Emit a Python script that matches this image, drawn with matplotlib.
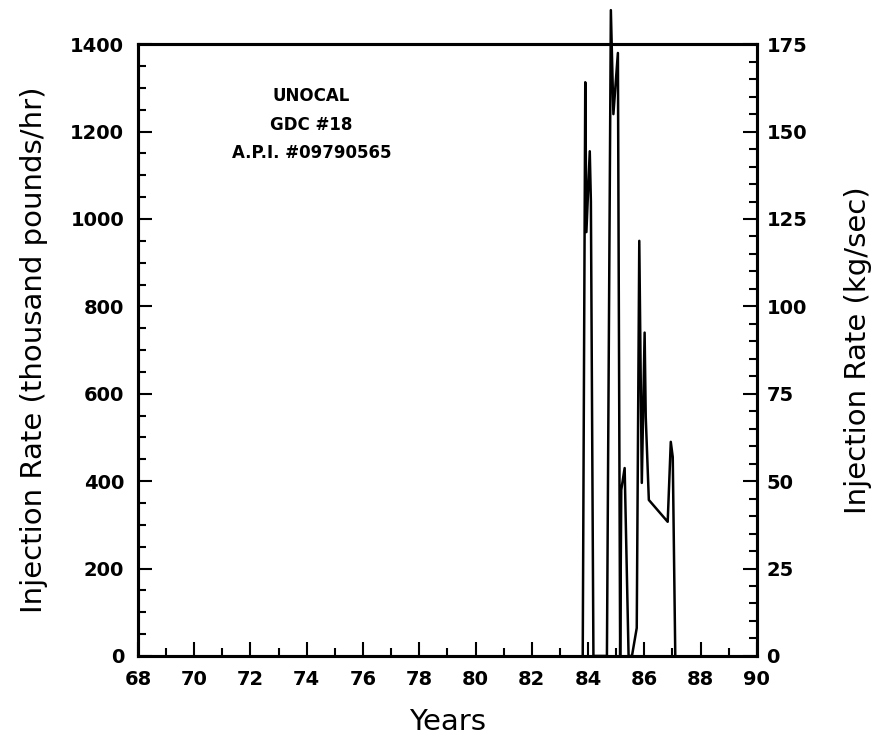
"""Injection rate history, UNOCAL GDC #18 (thousand lb/hr, with kg/sec on the right)."""

import matplotlib
matplotlib.use("Agg")
import matplotlib.pyplot as plt
from matplotlib.ticker import MultipleLocator

years = [83.81, 83.90, 83.94, 84.06, 84.10, 84.19,
         84.67, 84.81, 84.90, 85.06, 85.14, 85.18, 85.30, 85.44,
         85.56, 85.73, 85.82, 85.91, 86.01, 86.05, 86.16,
         86.83, 86.94, 87.01, 87.10]
rate_klb_hr = [0, 1313, 970, 1155, 1040, 0,
               0, 1478, 1240, 1380, 0, 380, 430, 0,
               0, 64, 950, 396, 740, 547, 357,
               307, 490, 455, 0]
KLBHR_TO_KGS = 0.125
well_label = "UNOCAL\nGDC #18\nA.P.I. #09790565"

plt.rcParams["font.family"] = "DejaVu Sans"

fig = plt.figure(figsize=(8.76, 7.37), dpi=100)
ax = fig.add_axes([0.1575, 0.110, 0.7065, 0.830])

ax.plot(years, rate_klb_hr, color="black", lw=1.8, clip_on=False, zorder=5)

ax.set_xlim(68, 90)
ax.set_ylim(0, 1400)
ax.xaxis.set_major_locator(MultipleLocator(2))
ax.xaxis.set_minor_locator(MultipleLocator(1))
ax.yaxis.set_major_locator(MultipleLocator(200))
ax.yaxis.set_minor_locator(MultipleLocator(50))
ax.tick_params(which="both", direction="in", width=1.5, labelsize=14,
               top=False, right=False)
ax.tick_params(which="major", length=10, pad=10)
ax.tick_params(which="minor", length=6)
for lab in ax.get_xticklabels() + ax.get_yticklabels():
    lab.set_fontweight("bold")
for s in ax.spines.values():
    s.set_linewidth(2.2)

ax.set_xlabel("Years", fontsize=21, labelpad=14)
ax.set_ylabel("Injection Rate (thousand pounds/hr)", fontsize=21, labelpad=16)

ax2 = ax.twinx()
ax2.set_ylim(0, 1400 * KLBHR_TO_KGS)
ax2.yaxis.set_major_locator(MultipleLocator(25))
ax2.yaxis.set_minor_locator(MultipleLocator(5))
ax2.tick_params(which="both", direction="in", width=1.5, labelsize=14)
ax2.tick_params(which="major", length=10, pad=7)
ax2.tick_params(which="minor", length=6)
for lab in ax2.get_yticklabels():
    lab.set_fontweight("bold")
for s in ax2.spines.values():
    s.set_linewidth(2.2)
ax2.set_ylabel("Injection Rate (kg/sec)", fontsize=21, labelpad=26)

ax.text(0.28, 0.93, well_label, transform=ax.transAxes, ha="center", va="top",
        fontsize=12, fontweight="bold", linespacing=1.75)

fig.savefig("out.png", dpi=100)
